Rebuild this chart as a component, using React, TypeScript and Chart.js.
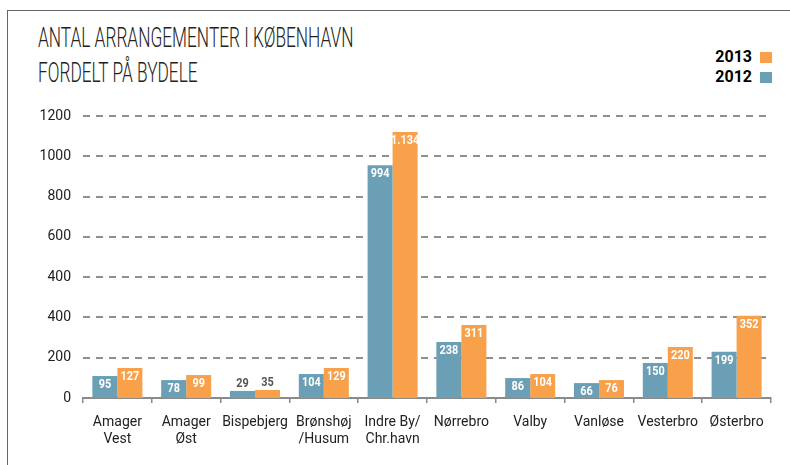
import React, { useEffect, useRef } from "react";
import { Chart, registerables } from "chart.js";

Chart.register(...registerables);

const categories: string[][] = [
  ["Amager", "Vest"],
  ["Amager", "Øst"],
  ["Bispebjerg"],
  ["Brønshøj", "/Husum"],
  ["Indre By/", "Chr.havn"],
  ["Nørrebro"],
  ["Valby"],
  ["Vanløse"],
  ["Vesterbro"],
  ["Østerbro"],
];

// bar heights as drawn in the picture (in units of the axis grid)
const values2012 = [109, 89, 35, 119, 1156, 278, 99, 74, 174, 229];
const values2013 = [149, 114, 40, 149, 1320, 362, 119, 89, 253, 408];

// printed labels on bars
const labels2012 = ["95", "78", "29", "104", "994", "238", "86", "66", "150", "199"];
const labels2013 = ["127", "99", "35", "129", "1.134", "311", "104", "76", "220", "352"];

// y-axis tick labels as printed (bottom to top)
const yTickLabels = ["0", "200", "400", "400", "600", "800", "1000", "1200"];

const COLOR_2012 = "#6b9fb5";
const COLOR_2013 = "#f8a04a";

const dashedGridPlugin = {
  id: "dashedGrid",
  beforeDatasetsDraw(chart: any) {
    const ctx = chart.ctx;
    const yScale = chart.scales.y;
    const area = chart.chartArea;
    ctx.save();
    ctx.strokeStyle = "#8f8f8f";
    ctx.lineWidth = 2;
    ctx.lineCap = "butt";
    ctx.setLineDash([7, 6]);
    yScale.ticks.forEach((t: any) => {
      if (t.value === 0) return;
      const y = Math.round(yScale.getPixelForValue(t.value));
      ctx.beginPath();
      ctx.moveTo(area.left, y);
      ctx.lineTo(area.right, y);
      ctx.stroke();
    });
    ctx.restore();
  },
};

const barLabelPlugin = {
  id: "barLabels",
  afterDraw(chart: any) {
    const ctx = chart.ctx;
    const sets = [labels2012, labels2013];
    ctx.save();
    ctx.font = "bold 13px Roboto, sans-serif";
    ctx.textAlign = "center";
    ctx.textBaseline = "middle";
    chart.data.datasets.forEach((_: any, di: number) => {
      const meta = chart.getDatasetMeta(di);
      meta.data.forEach((bar: any, i: number) => {
        const h = bar.base - bar.y;
        const txt = sets[di][i];
        const small = h < 11;
        const y = small ? bar.y - 7 : bar.y + 8.5;
        ctx.fillStyle = small ? "#555555" : "#ffffff";
        ctx.save();
        ctx.translate(bar.x, y);
        ctx.scale(0.84, 1);
        ctx.fillText(txt, 0, 0);
        ctx.restore();
      });
    });
    ctx.restore();
  },
};

export default function App() {
  const ref = useRef<HTMLCanvasElement | null>(null);

  useEffect(() => {
    if (!ref.current) return;
    const chart = new Chart(ref.current, {
      type: "bar",
      data: {
        labels: categories,
        datasets: [
          {
            label: "2012",
            data: values2012,
            backgroundColor: COLOR_2012,
            categoryPercentage: 0.727,
            barPercentage: 1,
          },
          {
            label: "2013",
            data: values2013,
            backgroundColor: COLOR_2013,
            categoryPercentage: 0.727,
            barPercentage: 1,
          },
        ],
      },
      options: {
        animation: false,
        responsive: false,
        maintainAspectRatio: false,
        layout: { padding: { top: 116, right: 19, left: 0, bottom: 0 } },
        plugins: {
          legend: { display: false },
          tooltip: { enabled: false },
          title: { display: false },
        },
        scales: {
          x: {
            grid: {
              display: true,
              drawOnChartArea: false,
              drawTicks: true,
              tickLength: 5,
              offset: true,
              color: "#8a8a8a",
              lineWidth: 1.5,
            },
            border: { display: true, color: "#8a8a8a", width: 2 },
            ticks: {
              color: "#222",
              font: { family: "Roboto, sans-serif", size: 14 },
              padding: 11,
              maxRotation: 0,
              autoSkip: false,
            },
            afterFit: (scale: any) => {
              scale.height = 67;
            },
          },
          y: {
            min: 0,
            max: 1400,
            ticks: {
              stepSize: 200,
              color: "#222",
              font: { family: "Roboto, sans-serif", size: 14 },
              padding: 12,
              callback: (_v: any, idx: number) => yTickLabels[idx],
            },
            grid: {
              display: false,
              drawTicks: false,
            },
            border: { display: false },
            afterFit: (scale: any) => {
              scale.width = 83;
            },
          },
        },
      },
      plugins: [dashedGridPlugin, barLabelPlugin],
    });
    return () => chart.destroy();
  }, []);

  return (
    <div
      style={{
        position: "absolute",
        left: 0,
        top: 0,
        width: 790,
        height: 465,
        background: "#fff",
        overflow: "hidden",
      }}
    >
      <div
        style={{
          position: "absolute",
          left: 7,
          top: 10,
          right: 0,
          bottom: 0,
          borderLeft: "1.5px solid #666",
          borderTop: "1.5px solid #666",
        }}
      />
      <div
        style={{
          position: "absolute",
          left: 38,
          top: 21,
          fontFamily: "Roboto, sans-serif",
          fontWeight: 300,
          fontSize: 27,
          lineHeight: "35px",
          color: "#222",
          transform: "scaleX(0.64)",
          transformOrigin: "0 0",
          whiteSpace: "nowrap",
        }}
      >
        <div>ANTAL ARRANGEMENTER I KØBENHAVN</div>
        <div>FORDELT PÅ BYDELE</div>
      </div>
      <div
        style={{
          position: "absolute",
          right: 18,
          top: 47,
          fontFamily: "Roboto, sans-serif",
          fontWeight: 700,
          fontSize: 16,
          lineHeight: "20px",
          color: "#000",
          textAlign: "right",
        }}
      >
        <div style={{ display: "flex", alignItems: "center", justifyContent: "flex-end" }}>
          <span>2013</span>
          <span style={{ display: "inline-block", width: 12, height: 11, background: COLOR_2013, marginLeft: 8 }} />
        </div>
        <div style={{ display: "flex", alignItems: "center", justifyContent: "flex-end" }}>
          <span>2012</span>
          <span style={{ display: "inline-block", width: 12, height: 11, background: COLOR_2012, marginLeft: 8 }} />
        </div>
      </div>
      <canvas
        ref={ref}
        width={790}
        height={465}
        style={{ position: "absolute", left: 0, top: 0, width: 790, height: 465 }}
      />
    </div>
  );
}
